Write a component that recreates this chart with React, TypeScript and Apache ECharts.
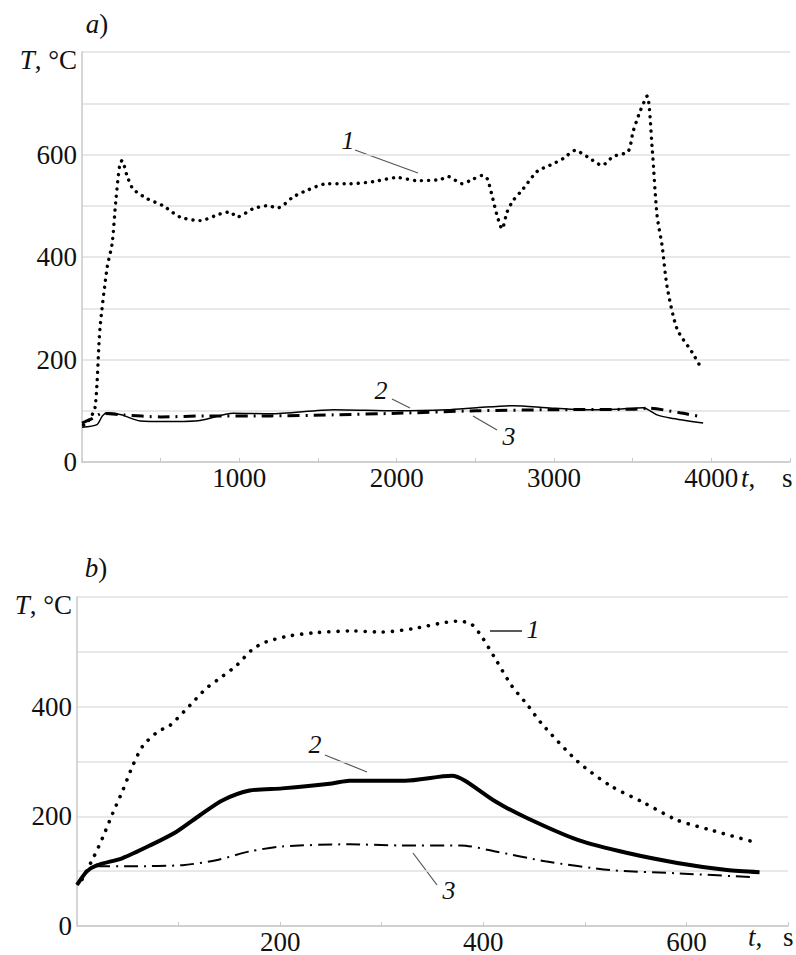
import React, { useEffect, useRef } from "react";
import * as echarts from "echarts";

// ---- Chart a) : t, s vs T, °C
const topXRange = [0, 4500, 500];
const topCurve1: [number, number][] = [
  [10, 72], [40, 80], [83, 106], [114, 260], [160, 380], [191, 425], [216, 514], [240, 580],
  [254, 588], [286, 559], [324, 533], [413, 514], [515, 500], [623, 478], [750, 471], [877, 484],
  [941, 488], [985, 478], [1087, 494], [1176, 500], [1246, 496], [1341, 517], [1430, 530],
  [1557, 543], [1704, 543], [1850, 547], [2003, 555], [2130, 549], [2276, 551], [2327, 557],
  [2416, 543], [2467, 549], [2543, 559], [2575, 553], [2606, 520], [2638, 481], [2670, 455],
  [2702, 488], [2740, 510], [2804, 533], [2893, 567], [2975, 579], [3058, 592], [3134, 608],
  [3210, 596], [3306, 579], [3376, 596], [3471, 606], [3503, 645], [3547, 684], [3592, 714],
  [3624, 612], [3655, 481], [3687, 422], [3720, 340], [3783, 259], [3878, 214], [3942, 180],
];
const topCurve2: [number, number][] = [
  [0, 68], [95, 73], [130, 90], [160, 96], [250, 92], [369, 80], [550, 79], [750, 81],
  [960, 95], [1200, 94], [1600, 102], [2000, 100], [2320, 102], [2511, 106], [2740, 110],
  [2950, 106], [3166, 102], [3400, 103], [3566, 106], [3655, 92], [3738, 86], [3948, 76],
];
const topCurve3: [number, number][] = [
  [0, 76], [60, 84], [130, 95], [261, 92], [500, 88], [800, 90], [1200, 90], [1600, 92],
  [2000, 95], [2500, 100], [3000, 102], [3500, 103], [3600, 105], [3800, 96], [3942, 88],
];

// ---- Chart b)
const botXRange = [0, 700, 100];
const botCurve1: [number, number][] = [
  [5, 85], [16, 124], [25, 160], [35, 205], [45, 247], [55, 293], [65, 329], [80, 355],
  [91, 365], [111, 402], [127, 433], [143, 455], [157, 475], [173, 505], [186, 518], [209, 529],
  [235, 535], [271, 538], [300, 536], [330, 542], [375, 556], [388, 551], [398, 529], [412, 487],
  [428, 438], [444, 402], [457, 370], [493, 300], [525, 256], [559, 224], [591, 193],
  [624, 175], [663, 155],
];
const botCurve2: [number, number][] = [
  [0, 75], [10, 100], [20, 111], [45, 124], [72, 147], [98, 172], [121, 202], [143, 229],
  [170, 247], [202, 251], [251, 260], [268, 265], [323, 265], [369, 274], [382, 265],
  [412, 227], [444, 196], [493, 157], [542, 133], [591, 115], [640, 102], [672, 98],
];
const botCurve3: [number, number][] = [
  [0, 75], [16, 109], [55, 109], [104, 111], [137, 120], [170, 136], [202, 145], [268, 149],
  [317, 147], [378, 147], [412, 136], [461, 118], [525, 102], [591, 96], [667, 89],
];

const topXLabels = [1000, 2000, 3000, 4000];
const topYLabels = [0, 200, 400, 600];
const botXLabels = [200, 400, 600];
const botYLabels = [0, 200, 400];

const FONT = "'Liberation Serif', 'Times New Roman', 'DejaVu Serif', serif";
const AXIS = "#c9c9c9";
const GRID = "#e0e0e0";
const INK = "#111";
const FS = 27;
const FT = 27;

function xAxisCfg(gridIndex: number, range: number[], labels: number[]) {
  return {
    type: "value",
    gridIndex,
    min: range[0],
    max: range[1],
    interval: range[2],
    axisLine: { show: true, lineStyle: { color: AXIS, width: 1.5 } },
    axisTick: { show: true, inside: true, length: 4, lineStyle: { color: AXIS } },
    splitLine: { show: false },
    axisLabel: {
      formatter: (v: number) => (labels.includes(v) ? String(v) : ""),
      margin: 2,
      fontSize: FS,
      fontFamily: FONT,
      color: INK,
    },
  };
}
function yAxisCfg(gridIndex: number, max: number, labels: number[]) {
  return {
    type: "value",
    gridIndex,
    min: 0,
    max,
    interval: 100,
    axisLine: { show: true, lineStyle: { color: AXIS, width: 1.5 } },
    axisTick: { show: false },
    splitLine: { show: true, lineStyle: { color: GRID, width: 1.5 } },
    axisLabel: {
      formatter: (v: number) => (labels.includes(v) ? String(v) : ""),
      margin: 5,
      fontSize: FS,
      fontFamily: FONT,
      color: INK,
    },
  };
}

function line(data: [number, number][], lineStyle: any, idx: number) {
  return {
    type: "line",
    xAxisIndex: idx,
    yAxisIndex: idx,
    data,
    showSymbol: false,
    smooth: 0.25,
    lineStyle,
  };
}

const txt = (text: string, x: number, y: number, extra: any = {}, fs = FT) => ({
  type: "text",
  x,
  y,
  style: {
    text,
    fontSize: fs,
    fontFamily: FONT,
    fill: INK,
    align: "center",
    verticalAlign: "middle",
    rich: {
      i: { fontStyle: "italic", fontSize: fs, fontFamily: FONT, fill: INK },
    },
    ...extra,
  },
});
const lead = (x1: number, y1: number, x2: number, y2: number, color = "#555", w = 1.2) => ({
  type: "line",
  shape: { x1, y1, x2, y2 },
  style: { stroke: color, lineWidth: w },
});

export default function App() {
  const ref = useRef<HTMLDivElement>(null);
  useEffect(() => {
    if (!ref.current) return;
    const chart = echarts.init(ref.current, null, { renderer: "svg" });
    const dotted = (w: number, gap: number) => ({
      color: "#000",
      width: w,
      type: [0.1, gap],
      cap: "round",
    });
    chart.setOption({
      animation: false,
      backgroundColor: "#fff",
      textStyle: { fontFamily: FONT },
      grid: [
        { left: 82, top: 52, width: 708, height: 410 },
        { left: 77, top: 597, width: 711, height: 331 },
      ],
      xAxis: [xAxisCfg(0, topXRange, topXLabels), xAxisCfg(1, botXRange, botXLabels)],
      yAxis: [yAxisCfg(0, 800, topYLabels), yAxisCfg(1, 600, botYLabels)],
      series: [
        line(topCurve2, { color: "#000", width: 1.5 }, 0),
        line(topCurve3, { color: "#000", width: 3, type: [12, 6, 2, 6] }, 0),
        line(topCurve1, dotted(3.4, 7), 0),
        line(botCurve3, { color: "#000", width: 2, type: [14, 6, 2, 6] }, 1),
        line(botCurve2, { color: "#000", width: 4 }, 1),
        line(botCurve1, dotted(3.6, 9), 1),
      ],
      graphic: [
        txt("{i|a})", 97, 24),
        txt("{i|b})", 96, 568),
        txt("{i|T}, °C", 77, 60, { align: "right" }),
        txt("{i|T}, °C", 72, 605, { align: "right" }),
        txt("{i|t},", 741, 478, { align: "left" }),
        txt("s", 782, 478, { align: "left" }),
        txt("{i|t},", 748, 937, { align: "left" }),
        txt("s", 783, 937, { align: "left" }),
        // annotations chart a
        txt("{i|1}", 348, 140, {}, 26),
        lead(355, 150, 418, 173),
        txt("{i|2}", 381, 390, {}, 26),
        lead(392, 399, 410, 408),
        txt("{i|3}", 509, 436, {}, 26),
        lead(473, 416, 497, 430),
        // annotations chart b
        txt("{i|1}", 533, 629, {}, 26),
        lead(490, 631, 522, 631, "#222", 1.5),
        txt("{i|2}", 315, 744, {}, 26),
        lead(325, 755, 367, 772),
        txt("{i|3}", 449, 890, {}, 26),
        lead(413, 853, 437, 885),
      ],
    });
    return () => chart.dispose();
  }, []);
  return (
    <div
      ref={ref}
      style={{ position: "fixed", left: 0, top: 0, width: 796, height: 955, background: "#fff" }}
    />
  );
}
